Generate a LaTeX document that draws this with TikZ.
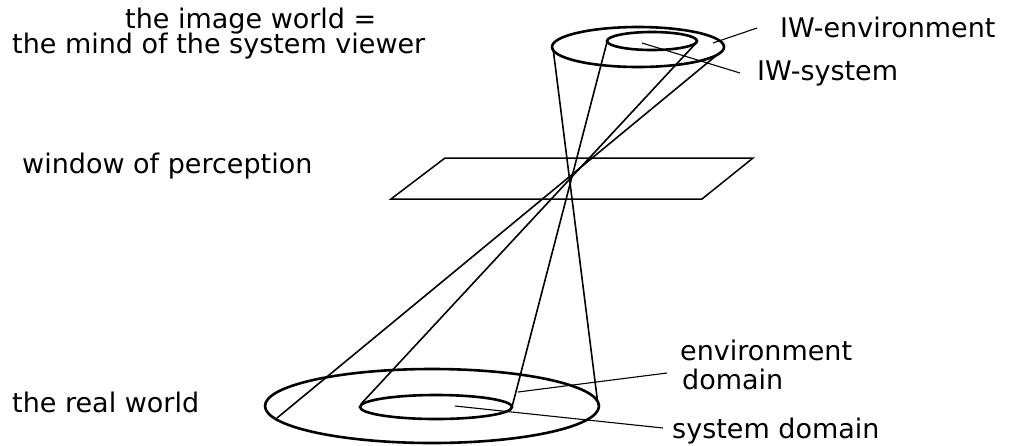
\documentclass[tikz,border=0pt]{standalone}
\usepackage{fontspec}
\setmainfont{DejaVu Sans}
\begin{document}
\begin{tikzpicture}[x=1pt, y=-1pt,
        ring/.style={line width=2.6pt},
        ray/.style={line width=1.6pt},
        pointer/.style={line width=1.1pt},
        lbl/.style={inner sep=0pt, anchor=base west, font=\fontsize{27}{30}\selectfont}]
        \useasboundingbox (0,0) rectangle (1011,445);
        % image world (top) and real world (bottom)
        \draw[ring] (638,47) ellipse [x radius=86, y radius=20];
        \draw[ring] (652,41) ellipse [x radius=45, y radius=9];
        \draw[ring] (432,406) ellipse [x radius=167, y radius=37];
        \draw[ring] (436,407) ellipse [x radius=76, y radius=12];
        % window of perception
        \draw[line width=1.5pt] (391,199) -- (702,199) -- (753,158) -- (445,158) -- cycle;
        % points on the rings
        \coordinate (otl) at (553,48);
        \coordinate (otr) at (723,50);
        \coordinate (itl) at (607,42);
        \coordinate (itr) at (697,42);
        \coordinate (obl) at (277,418);
        \coordinate (obr) at (598,405);
        \coordinate (ibl) at (361,404);
        \coordinate (ibr) at (512,407);
        \draw[ray] (otl) -- (obr);
        \draw[ray] (itl) -- (ibr);
        \draw[ray] (itr) -- (ibl);
        \draw[ray] (otr) -- (obl);
        % labels
        \node[lbl] (iw) at (125,28) {the image world =};
        \node[lbl] (mind) at (12,53) {the mind of the system viewer};
        \node[lbl] (win) at (22,173) {window of perception};
        \node[lbl] (real) at (12,412) {the real world};
        \node[lbl] (iwenv) at (780,37) {IW-environment};
        \node[lbl] (iwsys) at (757,80) {IW-system};
        \node[lbl] (env) at (680,360) {environment};
        \node[lbl] (envdom) at (682,389) {domain};
        \node[lbl] (sysdom) at (672,438) {system domain};
        % pointers
        \coordinate (iwenvend) at (757,28);
        \coordinate (iwsysend) at (740,73);
        \coordinate (envend) at (667,373);
        \coordinate (sysend) at (663,428);
        \draw[pointer] (713,43) -- (iwenvend);
        \draw[pointer] (642,43) -- (iwsysend);
        \draw[pointer] (518,392) -- (envend);
        \draw[pointer] (455,406) -- (sysend);
\end{tikzpicture}
\end{document}
